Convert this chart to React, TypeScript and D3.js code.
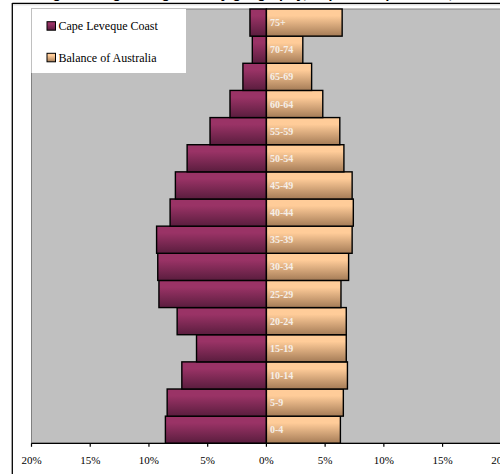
import React, { useEffect, useRef } from 'react';
import * as d3 from 'd3';

// age groups, bottom to top
const ageGroups = ['0-4', '5-9', '10-14', '15-19', '20-24', '25-29', '30-34', '35-39',
  '40-44', '45-49', '50-54', '55-59', '60-64', '65-69', '70-74', '75+'];

// per cent of population in each age group
const capeLeveque = [8.6, 8.45, 7.2, 5.95, 7.6, 9.15, 9.25, 9.35, 8.2, 7.75, 6.75, 4.8, 3.1, 2.0, 1.2, 1.4];
const balanceAus = [6.3, 6.55, 6.9, 6.8, 6.8, 6.35, 7.0, 7.3, 7.4, 7.3, 6.6, 6.25, 4.8, 3.85, 3.1, 6.45];

const tickValues = [-20, -15, -10, -5, 0, 5, 10, 15, 20];
const seriesNames = ['Cape Leveque Coast', 'Balance of Australia'];

const W = 500;
const H = 474;
const serif = '"Liberation Serif", "Times New Roman", Times, serif';

const App: React.FC = () => {
  const svgRef = useRef<SVGSVGElement>(null);

  useEffect(() => {
    document.body.style.margin = '0';
    if (!svgRef.current) return;
    const svg = d3.select(svgRef.current);
    svg.selectAll('*').remove();

    const plot = { left: 31.5, right: 501.3, top: 9, bottom: 443.3 };

    const x = d3.scaleLinear().domain([-20, 20]).range([plot.left, plot.right]);
    const y = d3.scaleBand<string>()
      .domain([...ageGroups].reverse())
      .range([plot.top, plot.bottom])
      .padding(0);

    // gradients
    const defs = svg.append('defs');
    const addGrad = (id: string, top: string, bottom: string) => {
      const g = defs.append('linearGradient')
        .attr('id', id)
        .attr('x1', 0).attr('y1', 0).attr('x2', 0).attr('y2', 1);
      g.append('stop').attr('offset', '0%').attr('stop-color', top);
      g.append('stop').attr('offset', '25%').attr('stop-color', top);
      g.append('stop').attr('offset', '100%').attr('stop-color', bottom);
    };
    addGrad('grad-cape', '#9a3366', '#5a1d3e');
    addGrad('grad-aus', '#ffcc99', '#a57c57');

    // white page + title (cut off at the top, only descenders show)
    svg.append('rect').attr('width', W).attr('height', H).attr('fill', '#ffffff');
    svg.append('text')
      .attr('x', 40)
      .attr('y', -1.6)
      .style('font-family', 'Arial, "Liberation Sans", sans-serif')
      .style('font-weight', 'bold')
      .style('font-size', '14px')
      .attr('fill', '#000')
      .text('Figure 2: Age and gender by geography, Cape Leveque Coast, 2006');

    // chart frame
    svg.append('line').attr('x1', 12.3).attr('x2', W).attr('y1', 3.3).attr('y2', 3.3)
      .attr('stroke', '#000').attr('stroke-width', 1.3);
    svg.append('line').attr('x1', 12.3).attr('x2', W).attr('y1', 4.8).attr('y2', 4.8)
      .attr('stroke', '#c8c8c8').attr('stroke-width', 0.8);
    svg.append('line').attr('x1', 12.3).attr('x2', 12.3).attr('y1', 3).attr('y2', H)
      .attr('stroke', '#000').attr('stroke-width', 1.3);

    // plot area
    svg.append('rect')
      .attr('x', plot.left).attr('y', plot.top)
      .attr('width', W - plot.left + 2).attr('height', plot.bottom - plot.top)
      .attr('fill', '#c0c0c0')
      .attr('stroke', '#808080')
      .attr('stroke-width', 1);

    const bars = svg.append('g');
    ageGroups.forEach((age, i) => {
      const yy = y(age)!;
      const h = y.bandwidth();
      bars.append('rect')
        .attr('x', x(-capeLeveque[i])).attr('y', yy)
        .attr('width', x(0) - x(-capeLeveque[i])).attr('height', h)
        .attr('fill', 'url(#grad-cape)')
        .attr('stroke', '#000').attr('stroke-width', 1.4);
      bars.append('rect')
        .attr('x', x(0)).attr('y', yy)
        .attr('width', x(balanceAus[i]) - x(0)).attr('height', h)
        .attr('fill', 'url(#grad-aus)')
        .attr('stroke', '#000').attr('stroke-width', 1.4);
      bars.append('text')
        .attr('x', x(0) + 3.5)
        .attr('y', yy + h / 2)
        .attr('dy', '0.35em')
        .style('font-family', serif)
        .style('font-weight', 'bold')
        .style('font-size', '10px')
        .attr('fill', '#f6efe8')
        .text(age);
    });

    // x axis
    const axis = svg.append('g');
    axis.append('line')
      .attr('x1', plot.left).attr('x2', W)
      .attr('y1', plot.bottom).attr('y2', plot.bottom)
      .attr('stroke', '#000').attr('stroke-width', 1.2);
    tickValues.forEach(t => {
      axis.append('line')
        .attr('x1', x(t)).attr('x2', x(t))
        .attr('y1', plot.bottom).attr('y2', plot.bottom + 3.5)
        .attr('stroke', '#000').attr('stroke-width', 1.2);
      axis.append('text')
        .attr('x', x(t))
        .attr('y', 464)
        .attr('text-anchor', 'middle')
        .style('font-family', serif)
        .style('font-size', '11px')
        .attr('fill', '#000')
        .text(`${Math.abs(t)}%`);
    });

    // legend
    const legend = svg.append('g');
    legend.append('rect')
      .attr('x', plot.left).attr('y', plot.top)
      .attr('width', 154.5).attr('height', 64)
      .attr('fill', '#ffffff');
    const legendY = [21.7, 53.3];
    const grads = ['url(#grad-cape)', 'url(#grad-aus)'];
    seriesNames.forEach((name, i) => {
      legend.append('rect')
        .attr('x', 47).attr('y', legendY[i])
        .attr('width', 8.5).attr('height', 8.5)
        .attr('fill', grads[i])
        .attr('stroke', '#000').attr('stroke-width', 1);
      legend.append('text')
        .attr('x', 58.5).attr('y', legendY[i] + 8.2)
        .style('font-family', serif)
        .style('font-size', '12px')
        .attr('fill', '#000')
        .text(name);
    });
  }, []);

  return (
    <div style={{ position: 'absolute', left: 0, top: 0, width: W, height: H, overflow: 'hidden' }}>
      <svg ref={svgRef} width={W} height={H} style={{ display: 'block' }} />
    </div>
  );
};

export default App;
